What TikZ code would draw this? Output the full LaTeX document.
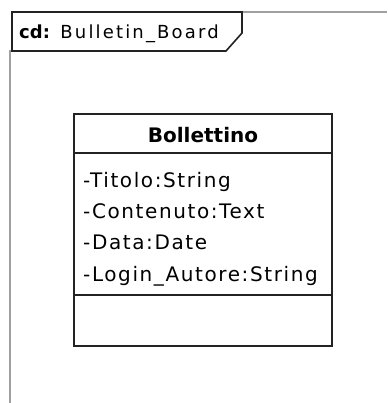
\documentclass[tikz,border=0pt]{standalone}
\usepackage{fontspec}
\setmainfont{DejaVu Sans}
\newfontfamily\attrfont{DejaVu Sans}[LetterSpace=8]
\newfontfamily\framefont{DejaVu Sans}[LetterSpace=12]
\definecolor{framegrey}{RGB}{160,160,160}
\definecolor{inkline}{RGB}{35,35,35}
\tikzset{
  frameline/.style={draw=framegrey, line width=2pt},
  umlline/.style={draw=inkline, line width=1.6pt},
  attrtext/.style={anchor=base west, inner sep=0pt, font=\attrfont\fontsize{20}{24}\selectfont},
  headtext/.style={anchor=base, inner sep=0pt, font=\bfseries\fontsize{20}{24}\selectfont},
  frametext/.style={anchor=base west, inner sep=0pt, font=\framefont\fontsize{18}{22}\selectfont},
}
\begin{document}
\begin{tikzpicture}[x=1pt, y=-1pt]
  \useasboundingbox (0,0) rectangle (387,403);
  \fill[white] (0,0) rectangle (387,403);

  % diagram frame
  \coordinate (fbottom) at (10,403);
  \coordinate (fleft) at (10,50);
  \coordinate (ftopA) at (242,12);
  \coordinate (ftopB) at (387,12);
  \draw[frameline] (fbottom) -- (fleft);
  \draw[frameline] (ftopA) -- (ftopB);

  % frame name tab
  \draw[umlline, fill=white] (12,12) -- (242,12) -- (242,33) -- (226,51) -- (12,51) -- cycle;
  \node[frametext] (title) at (19,39) {{\rmfamily\bfseries cd:} Bulletin\_Board};

  % class Bollettino
  \node[umlline, fill=white, minimum width=258pt, minimum height=232pt, inner sep=0pt] (cls) at (203,230) {};
  \coordinate (sep1) at (0,153);
  \coordinate (sep2) at (0,295);
  \draw[umlline] (cls.west |- sep1) -- (cls.east |- sep1);
  \draw[umlline] (cls.west |- sep2) -- (cls.east |- sep2);

  \node[headtext] (name) at (203,143) {Bollettino};
  \node[attrtext] (a1) at (83,187) {-Titolo:String};
  \node[attrtext] (a2) at (83,218.3) {-Contenuto:Text};
  \node[attrtext] (a3) at (83,249.6) {-Data:Date};
  \node[attrtext] (a4) at (83,281) {-Login\_Autore:String};
\end{tikzpicture}
\end{document}
